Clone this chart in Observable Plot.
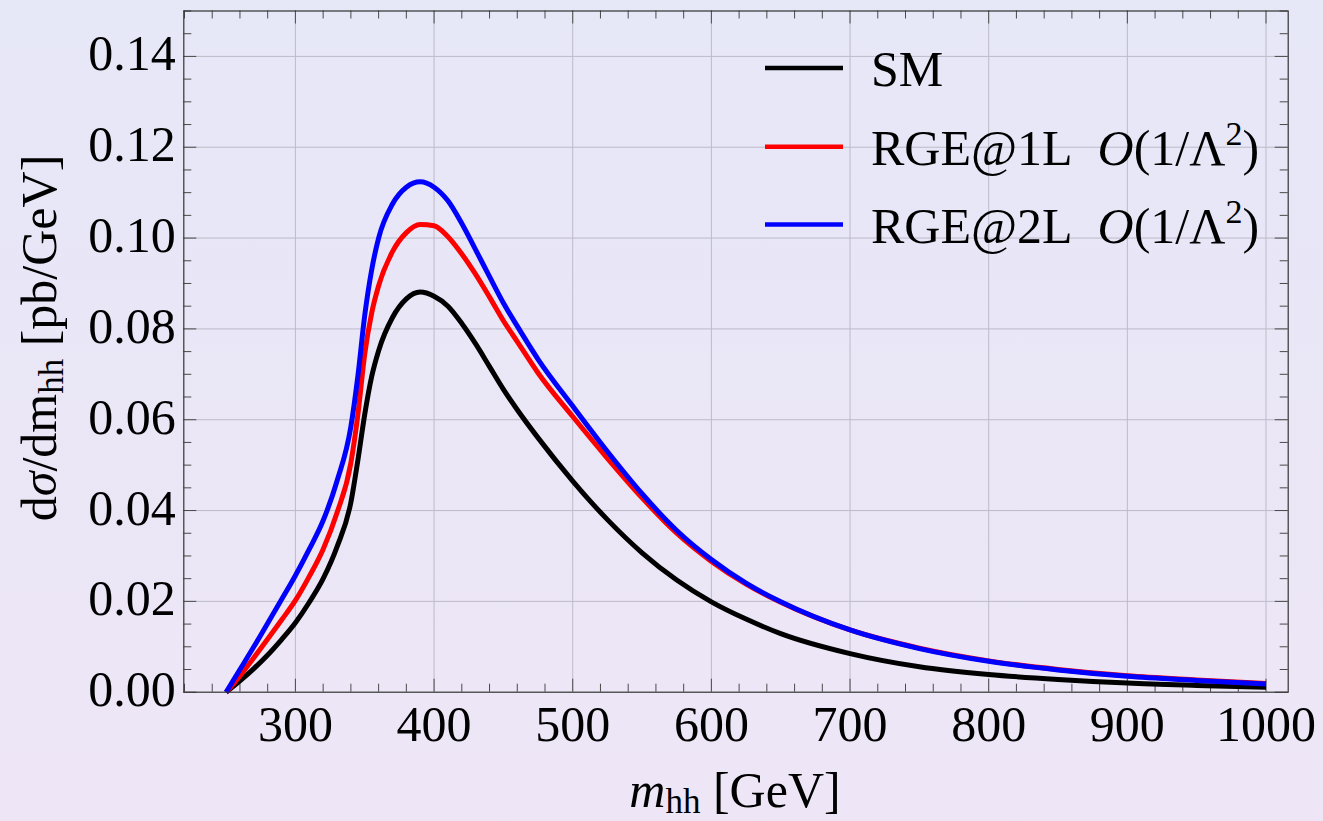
<!DOCTYPE html>
<html><head><meta charset="utf-8">
<script src="https://cdn.jsdelivr.net/npm/d3@7"></script>
<script src="https://cdn.jsdelivr.net/npm/@observablehq/plot@0.6"></script>
<style>
html,body{margin:0;padding:0;}
body{width:1323px;height:821px;overflow:hidden;background:linear-gradient(to bottom,#e6e7f7,#eee6f6);}
svg{display:block;}
</style></head><body><div id="chart"></div>
<script>
const mass = [250,260,270,280,290,300,310,320,330,340,345,350,355,360,370,380,390,400,410,420,430,440,450,460,475,500,525,550,575,600,625,650,700,750,800,850,900,950,1000];
const sm   = [0,0.0025,0.0052,0.0082,0.0116,0.0153,0.0198,0.0250,0.0320,0.0418,0.0510,0.0612,0.0695,0.0752,0.0825,0.0866,0.0881,0.0872,0.0850,0.0812,0.0767,0.0717,0.0667,0.0622,0.0560,0.0465,0.0380,0.0307,0.0247,0.0199,0.0161,0.0129,0.0085,0.0056,0.0039,0.0028,0.0020,0.0015,0.0011];
const rge1 = [0,0.0036,0.0076,0.0117,0.0159,0.0202,0.0255,0.0315,0.0395,0.0505,0.0610,0.0745,0.0835,0.0895,0.0970,0.1012,0.1030,0.1027,0.1003,0.0965,0.0920,0.0870,0.0818,0.0772,0.0703,0.0607,0.0515,0.0428,0.0350,0.0288,0.0238,0.0198,0.0137,0.0097,0.0069,0.0050,0.0036,0.0027,0.0019];
const rge2 = [0,0.0050,0.0100,0.0152,0.0204,0.0257,0.0315,0.0378,0.0465,0.0585,0.0695,0.0830,0.0930,0.1000,0.1075,0.1112,0.1124,0.1112,0.1082,0.1032,0.0974,0.0915,0.0857,0.0806,0.0733,0.0630,0.0530,0.0437,0.0356,0.0292,0.0240,0.0199,0.0137,0.0096,0.0068,0.0049,0.0035,0.0026,0.0018];
const seriesNames = ["SM","RGE@1L","RGE@2L"];
const seriesColors = ["#000000","#ff0000","#0000ff"];
const xTicks = [300,400,500,600,700,800,900,1000];
const yTicks = [0,0.02,0.04,0.06,0.08,0.10,0.12,0.14];
const xMinor = d3.range(220,1016,20).filter(v=>!xTicks.includes(v));
const yMinor = d3.range(0,0.1501,0.005).filter(v=>!yTicks.some(t=>Math.abs(t-v)<1e-9));

const table = [];
[sm,rge1,rge2].forEach((arr,si)=>arr.forEach((v,i)=>table.push({m:mass[i],v,s:seriesNames[si]})));

const W=1323,H=821,mL=183.3,mR=35.3,mT=10.5,mB=129.3;
const fw=W-mL-mR, fh=H-mT-mB;
const font="Liberation Serif, Times New Roman, serif";
const tickCol="#4a4a4a";

const plot = Plot.plot({
  width:W,height:H,marginLeft:mL,marginRight:mR,marginTop:mT,marginBottom:mB,
  style:{background:"transparent",fontFamily:font},
  x:{domain:[219.5,1016]},
  y:{domain:[0,0.15]},
  color:{domain:seriesNames,range:seriesColors},
  marks:[
    Plot.gridX(xTicks,{stroke:"#bdbac9",strokeOpacity:1,strokeWidth:1}),
    Plot.gridY(yTicks.slice(1),{stroke:"#bdbac9",strokeOpacity:1,strokeWidth:1}),
    Plot.tickX(xTicks,{x:d=>d,stroke:tickCol,insetTop:fh-13}),
    Plot.tickX(xMinor,{x:d=>d,stroke:tickCol,insetTop:fh-8}),
    Plot.tickX(xTicks,{x:d=>d,stroke:tickCol,insetBottom:fh-13}),
    Plot.tickX(xMinor,{x:d=>d,stroke:tickCol,insetBottom:fh-8}),
    Plot.tickY(yTicks,{y:d=>d,stroke:tickCol,insetRight:fw-13}),
    Plot.tickY(yMinor,{y:d=>d,stroke:tickCol,insetRight:fw-8}),
    Plot.tickY(yTicks,{y:d=>d,stroke:tickCol,insetLeft:fw-13}),
    Plot.tickY(yMinor,{y:d=>d,stroke:tickCol,insetLeft:fw-8}),
    Plot.axisX(xTicks,{tickSize:0,tickPadding:13,fontSize:50,fontFamily:font,fill:"#000",label:null,tickFormat:d3.format("d")}),
    Plot.axisY(yTicks,{tickSize:0,tickPadding:8,fontSize:50,fontFamily:font,fill:"#000",label:null,tickFormat:d3.format(".2f"),dy:-2}),
    Plot.line(table,{x:"m",y:"v",z:"s",stroke:"s",strokeWidth:5,strokeLinejoin:"round",strokeLinecap:"butt",curve:"monotone-x"}),
    Plot.frame({stroke:"#333",strokeWidth:1.2})
  ]
});
document.getElementById("chart").appendChild(plot);

const svg = d3.select(plot);
const legRows=[{y:68,c:seriesColors[0],t:"SM"},{y:146.7,c:seriesColors[1],t:"RGE@1L"},{y:224.5,c:seriesColors[2],t:"RGE@2L"}];
const lg = svg.append("g").attr("font-family",font).attr("font-size",50).attr("fill","#000").attr("text-anchor","start");
legRows.forEach((r,i)=>{
  lg.append("line").attr("x1",765).attr("x2",843).attr("y1",r.y).attr("y2",r.y).attr("stroke",r.c).attr("stroke-width",4.5);
  const t = lg.append("text").attr("x",871).attr("y",r.y+18);
  t.append("tspan").text(r.t);
  if(i>0){
    t.append("tspan").attr("dx",25).attr("font-style","italic").text("O");
    t.append("tspan").text("(1/Λ");
    t.append("tspan").attr("font-size",34).attr("dy",-20).text("2");
    t.append("tspan").attr("dy",20).text(")");
  }
});
const xl = svg.append("text").attr("x",735).attr("y",807).attr("text-anchor","middle").attr("font-family",font).attr("font-size",50).attr("fill","#000");
xl.append("tspan").attr("font-style","italic").text("m");
xl.append("tspan").attr("font-size",35).attr("dy",6).text("hh");
xl.append("tspan").attr("dy",-6).text(" [GeV]");
const yl = svg.append("text").attr("transform","translate(56,338) rotate(-90)").attr("text-anchor","middle").attr("font-family",font).attr("font-size",50).attr("fill","#000");
yl.append("tspan").text("d");
yl.append("tspan").attr("font-style","italic").text("σ");
yl.append("tspan").text("/dm");
yl.append("tspan").attr("font-size",35).attr("dy",7).text("hh");
yl.append("tspan").attr("dy",-7).text(" [pb/GeV]");
</script></body></html>
